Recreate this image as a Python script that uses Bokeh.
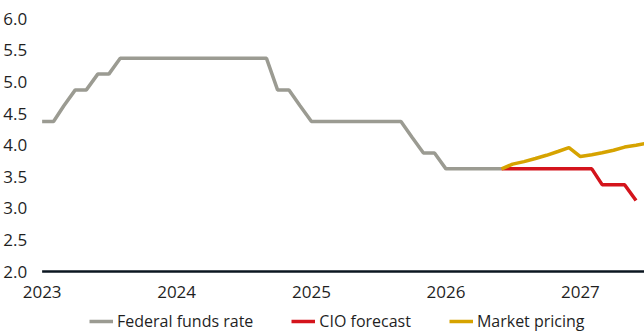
import pandas as pd
from bokeh.plotting import figure
from bokeh.models import (FixedTicker, DatetimeTickFormatter,
                          NumeralTickFormatter, Range1d, Legend, LegendItem)
from bokeh.embed import file_html
from bokeh.resources import INLINE

# Monthly series, first point January 2023
start_month = "2023-01-01"

# Federal funds rate (mid-point of target range), 42 monthly observations
fed_funds = [4.375, 4.375, 4.625, 4.875, 4.875, 5.125, 5.125,
             5.375, 5.375, 5.375, 5.375, 5.375, 5.375, 5.375,
             5.375, 5.375, 5.375, 5.375, 5.375, 5.375, 5.375,
             4.875, 4.875, 4.625, 4.375,
             4.375, 4.375, 4.375, 4.375, 4.375, 4.375, 4.375, 4.375,
             4.125, 3.875, 3.875, 3.625,
             3.625, 3.625, 3.625, 3.625, 3.625]

# Forecasts start at the last observed month
cio_forecast = [3.625, 3.625, 3.625, 3.625, 3.625, 3.625, 3.625, 3.625, 3.625,
                3.375, 3.375, 3.375, 3.125]
market_pricing = [3.625, 3.70, 3.74, 3.79, 3.84, 3.90, 3.96,
                  3.82, 3.85, 3.88, 3.92, 3.97, 4.00, 4.03]

years = [2023, 2024, 2025, 2026, 2027]
y_ticks = [2.0, 2.5, 3.0, 3.5, 4.0, 4.5, 5.0, 5.5, 6.0]
y_axis_floor = 2.0

GRAY = "#9b9b92"
RED = "#d4141c"
GOLD = "#d6a300"
TEXT = "#1f1f1f"
FONT = "Open Sans"

fed_dates = pd.date_range(start_month, periods=len(fed_funds), freq="MS")
fc_start = fed_dates[-1]
cio_dates = pd.date_range(fc_start, periods=len(cio_forecast), freq="MS")
mkt_dates = pd.date_range(fc_start, periods=len(market_pricing), freq="MS")

x_origin = pd.Timestamp(start_month)
x_end = pd.Timestamp("2027-06-24")

# The frame fills the canvas; both axes are pinned inside it (x at 2.0,
# y at the first month) so the tick labels and legend sit in the margins.
p = figure(width=644, height=332, x_axis_type="datetime",
           output_backend="svg", toolbar_location=None,
           min_border=0)
p.x_range = Range1d(pd.Timestamp("2022-09-10"), x_end)
p.y_range = Range1d(1.035, 6.29)

r_fed = p.line(fed_dates, fed_funds, line_color=GRAY, line_width=3.5)
r_cio = p.line(cio_dates, cio_forecast, line_color=RED, line_width=3.5)
r_mkt = p.line(mkt_dates, market_pricing, line_color=GOLD, line_width=3.5)

# Baseline along 2.0 from the first month to the end of the range
p.segment(x0=[x_origin], y0=[y_axis_floor], x1=[x_end], y1=[y_axis_floor],
          line_color="#0b1620", line_width=2.5)

p.outline_line_color = None
p.grid.visible = False
p.background_fill_color = "white"
p.border_fill_color = "white"

xa = p.xaxis[0]
xa.fixed_location = y_axis_floor
xa.ticker = FixedTicker(ticks=[pd.Timestamp(f"{y}-01-01").timestamp() * 1000 for y in years])
xa.formatter = DatetimeTickFormatter(years="%Y", months="%Y", days="%Y")
xa.axis_line_color = None
xa.major_tick_line_color = None
xa.minor_tick_line_color = None
xa.major_label_standoff = 8
xa.major_label_text_font = FONT
xa.major_label_text_font_size = "17px"
xa.major_label_text_color = TEXT

ya = p.yaxis[0]
ya.fixed_location = x_origin.timestamp() * 1000
ya.ticker = FixedTicker(ticks=y_ticks)
ya.formatter = NumeralTickFormatter(format="0.0")
ya.axis_line_color = None
ya.major_tick_line_color = None
ya.minor_tick_line_color = None
ya.major_label_standoff = 9
ya.major_label_text_font = FONT
ya.major_label_text_font_size = "17px"
ya.major_label_text_color = TEXT

legend = Legend(items=[LegendItem(label="Federal funds rate", renderers=[r_fed]),
                       LegendItem(label="CIO forecast", renderers=[r_cio]),
                       LegendItem(label="Market pricing", renderers=[r_mkt])],
                orientation="horizontal", location=(89, 0),
                label_text_font=FONT, label_text_font_size="16px",
                label_text_color=TEXT, glyph_width=24, glyph_height=16,
                label_standoff=4, spacing=38, padding=0, margin=0,
                border_line_color=None, background_fill_alpha=0)
p.add_layout(legend, "center")

open("out.html", "w").write(file_html(p, INLINE))
